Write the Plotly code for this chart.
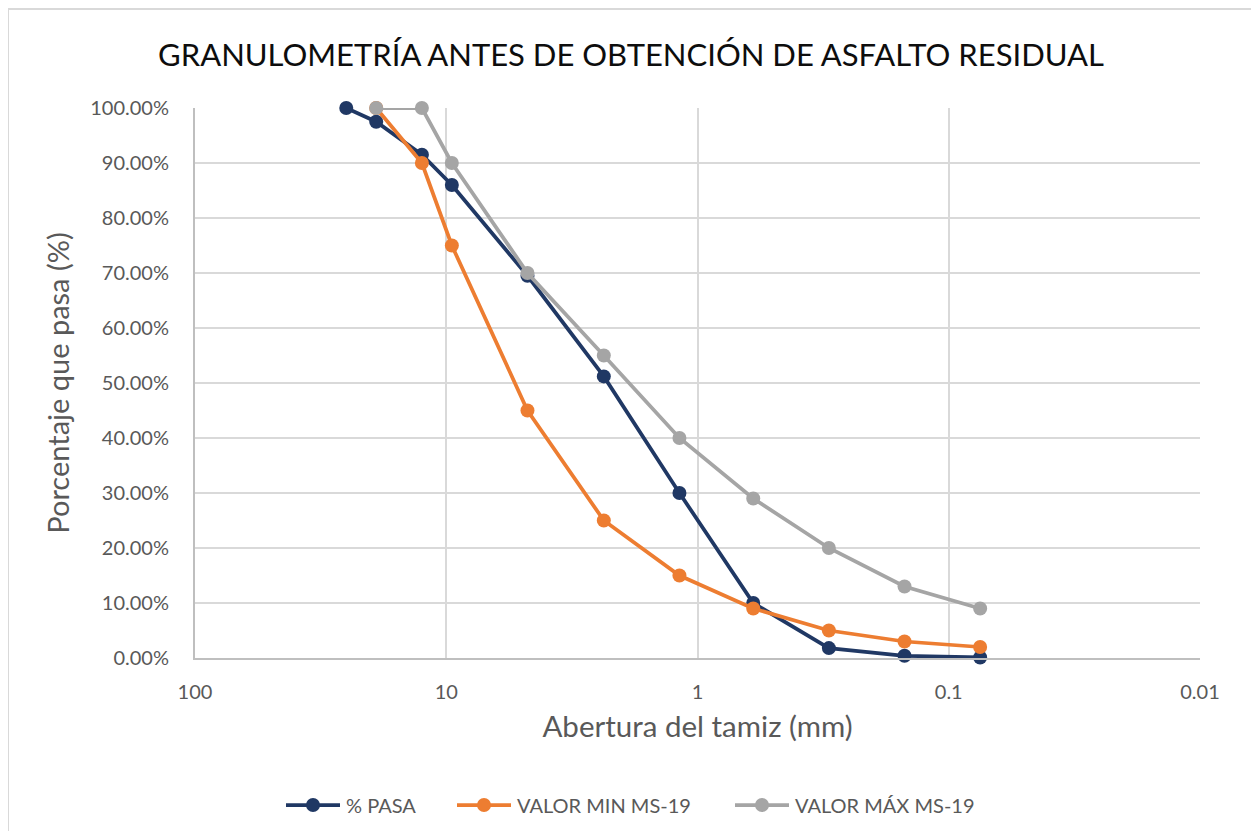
import plotly.graph_objects as go

sizes_mm = [25, 19, 12.5, 9.5, 4.75, 2.36, 1.18, 0.6, 0.3, 0.15, 0.075]
pasa = [1.0, 0.975, 0.915, 0.86, 0.695, 0.512, 0.30, 0.10, 0.018, 0.004, 0.001]
min_sizes = [19, 12.5, 9.5, 4.75, 2.36, 1.18, 0.6, 0.3, 0.15, 0.075]
valor_min = [1.0, 0.90, 0.75, 0.45, 0.25, 0.15, 0.09, 0.05, 0.03, 0.02]
max_sizes = [19, 12.5, 9.5, 4.75, 2.36, 1.18, 0.6, 0.3, 0.15, 0.075]
valor_max = [1.0, 1.0, 0.90, 0.70, 0.55, 0.40, 0.29, 0.20, 0.13, 0.09]

x_tickvals = [100, 10, 1, 0.1, 0.01]
x_ticktext = ["100", "10", "1", "0.1", "0.01"]

FONT = "Lato"
OFF = 8  # page body margin
W, H = 1259 - 2 * OFF, 839 - 2 * OFF
L, R, T, B = 195 - OFF, 1200 - OFF, 108 - OFF, 658 - OFF

def px(x):
    return ((x - OFF) - L) / (R - L)

def py(y):
    return (B - (y - OFF)) / (B - T)

fig = go.Figure()
series = [
    ("% PASA", sizes_mm, pasa, "#203864", 286),
    ("VALOR MIN MS-19", min_sizes, valor_min, "#ED7D31", 457),
    ("VALOR MÁX MS-19", max_sizes, valor_max, "#A5A5A5", 735),
]
shapes = [dict(type="rect", xref="paper", yref="paper",
               x0=px(8), x1=px(1252), y0=py(860), y1=py(9),
               line=dict(color="#D9D9D9", width=2), fillcolor="rgba(0,0,0,0)",
               layer="below")]
annotations = []
LEG_Y = 805
for name, xs, ys, col, lx in series:
    fig.add_trace(go.Scatter(
        x=xs, y=ys, name=name, mode="lines+markers",
        line=dict(color=col, width=3.75),
        marker=dict(color=col, size=14),
        cliponaxis=False, showlegend=False,
    ))
    # legend entry (symbol + label)
    shapes.append(dict(type="line", xref="paper", yref="paper",
                       x0=px(lx), x1=px(lx + 54), y0=py(LEG_Y), y1=py(LEG_Y),
                       line=dict(color=col, width=3.75)))
    shapes.append(dict(type="circle", xref="paper", yref="paper",
                       xsizemode="pixel", ysizemode="pixel",
                       xanchor=px(lx + 27), yanchor=py(LEG_Y),
                       x0=-7, x1=7, y0=-7, y1=7,
                       fillcolor=col, line=dict(color=col, width=0)))
    annotations.append(dict(xref="paper", yref="paper", x=px(lx + 58), y=py(LEG_Y),
                            xanchor="left", yanchor="middle", showarrow=False,
                            text=name, font=dict(family=FONT, size=20, color="#595959")))

fig.update_layout(
    width=W, height=H,
    margin=dict(l=L, r=W - R, t=T, b=H - B),
    paper_bgcolor="white", plot_bgcolor="white",
    font=dict(family=FONT, color="#595959"),
    title=dict(text="GRANULOMETRÍA ANTES DE OBTENCIÓN DE ASFALTO RESIDUAL",
               font=dict(family=FONT, size=31, color="#0D0D0D"),
               x=px(631), xanchor="center", xref="paper", y=1 - (55 - OFF) / H, yanchor="middle"),
    showlegend=False,
    shapes=shapes,
    annotations=annotations,
)

fig.update_xaxes(
    type="log", range=[2, -2], tickvals=x_tickvals, ticktext=x_ticktext,
    showgrid=True, gridcolor="#D9D9D9", gridwidth=2,
    showline=True, linecolor="#BFBFBF", linewidth=2,
    ticks="", tickfont=dict(family=FONT, size=20, color="#595959"),
    ticklabelstandoff=15, zeroline=False,
    title=dict(text="Abertura del tamiz (mm)", font=dict(family=FONT, size=29.5, color="#595959"),
               standoff=14),
)
fig.update_yaxes(
    range=[0, 1], tick0=0, dtick=0.1, tickformat=".2%",
    showgrid=True, gridcolor="#D9D9D9", gridwidth=2,
    showline=True, linecolor="#BFBFBF", linewidth=2,
    ticks="", tickfont=dict(family=FONT, size=20, color="#595959"),
    ticklabelstandoff=20, zeroline=False,
    title=dict(text="Porcentaje que pasa (%)", font=dict(family=FONT, size=29, color="#595959"),
               standoff=12),
)

fig.write_html("out.html")
